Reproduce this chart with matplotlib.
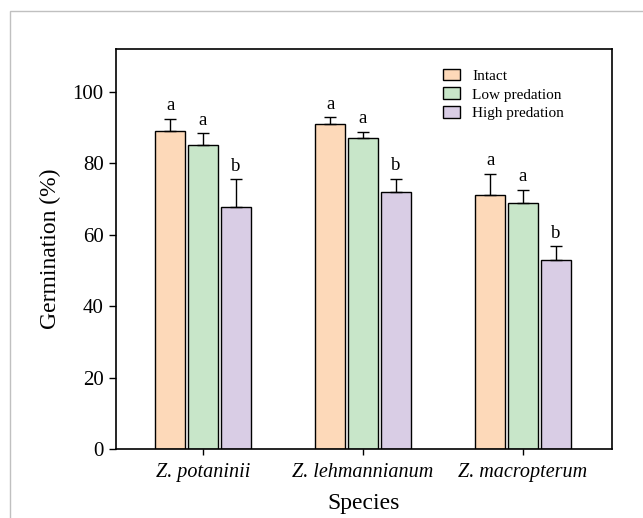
import matplotlib.pyplot as plt
from matplotlib.patches import Rectangle
import numpy as np

plt.rcParams['font.family'] = ['Liberation Serif', 'DejaVu Serif']

species = ['Z. potaninii', 'Z. lehmannianum', 'Z. macropterum']
treatments = ['Intact', 'Low predation', 'High predation']
intact = [89.1, 91.1, 71.0]
low = [85.2, 87.0, 69.0]
high = [67.9, 72.1, 53.0]
intact_err = [3.3, 1.8, 6.0]
low_err = [3.2, 1.8, 3.5]
high_err = [7.6, 3.5, 3.8]
letters = [['a', 'a', 'b'], ['a', 'a', 'b'], ['a', 'a', 'b']]

colors = ['#FDD9B9', '#C8E6C9', '#D9CDE5']

fig = plt.figure(figsize=(6.43, 5.18), dpi=100)
ax = fig.add_axes([115.5 / 643, 1 - 449 / 518, (611.7 - 115.5) / 643, (449 - 49) / 518])

# thin grey frame around the figure
fig.patches.append(Rectangle((10 / 643, -0.1), 1.2, 1 - 11 / 518 + 0.1,
                             transform=fig.transFigure, fill=False,
                             edgecolor='#c0c0c0', lw=1.0, zorder=0))

x = np.arange(1, len(species) + 1)
width = 0.1875
offset = 0.206
series = [intact, low, high]
errs = [intact_err, low_err, high_err]

for i, (vals, err) in enumerate(zip(series, errs)):
    pos = x + (i - 1) * offset
    ax.bar(pos, vals, width, color=colors[i], edgecolor='black', linewidth=1.0,
           label=treatments[i], zorder=2)
    ax.errorbar(pos, vals, yerr=[np.zeros(len(vals)), err], fmt='none',
                ecolor='black', elinewidth=1.0, capsize=4, capthick=1.0, zorder=3)
    for j in range(len(vals)):
        ax.text(pos[j], vals[j] + err[j] + 1.3, letters[j][i], ha='center',
                va='bottom', fontsize=13.5)

ax.set_xlim(0.453, 3.554)
ax.set_ylim(0, 112)
ax.set_yticks([0, 20, 40, 60, 80, 100])
ax.set_xticks(x)
ax.set_xticklabels(species, style='italic', fontsize=14.5)
ax.tick_params(axis='y', labelsize=15, direction='out', length=5, width=1)
ax.tick_params(axis='x', direction='out', length=4, width=1, pad=6)
for s in ax.spines.values():
    s.set_linewidth(1.2)

ax.set_ylabel('Germination (%)', fontsize=17, labelpad=8)
ax.set_xlabel('Species', fontsize=17, labelpad=8)

ax.legend(loc='upper left', bbox_to_anchor=(0.633, 0.985), frameon=False,
          fontsize=11, handlelength=1.1, handleheight=0.8, labelspacing=0.3,
          handletextpad=0.8)

fig.savefig('out.png', dpi=100)
